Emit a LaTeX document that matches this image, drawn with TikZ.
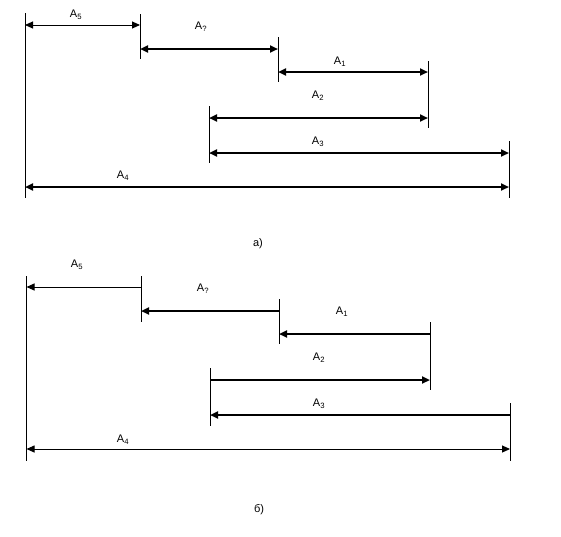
\documentclass[tikz,border=0pt]{standalone}
\usepackage{fontspec}
\setmainfont{Liberation Sans}
\usetikzlibrary{arrows.meta}
\begin{document}
\begin{tikzpicture}[x=1pt,y=-1pt,
  thin dim/.style={line width=0.9pt},
  thick dim/.style={line width=2pt},
  ext/.style={line width=0.9pt},
  lbl/.style={font=\fontsize{11}{13}\selectfont, inner sep=0pt},
  captionlbl/.style={font=\fontsize{11}{13}\selectfont, inner sep=0pt},
  >={Triangle[length=8pt,width=7pt]}]
\useasboundingbox (0,0) rectangle (561,536);

% ===== a) =====
\coordinate (a0t) at (25,13);   \coordinate (a0b) at (25,198);
\coordinate (a1t) at (140,14);  \coordinate (a1b) at (140,59);
\coordinate (a2t) at (278,37);  \coordinate (a2b) at (278,82);
\coordinate (a3t) at (428,61);  \coordinate (a3b) at (428,128);
\coordinate (a4t) at (209,106); \coordinate (a4b) at (209,163);
\coordinate (a5t) at (509,141); \coordinate (a5b) at (509,198);
\foreach \i in {0,...,5} \draw[ext] (a\i t) -- (a\i b);

\coordinate (aA5l) at (25,25);   \coordinate (aA5r) at (140,25);
\coordinate (aAql) at (140,49);  \coordinate (aAqr) at (278,49);
\coordinate (aA1l) at (278,72);  \coordinate (aA1r) at (428,72);
\coordinate (aA2l) at (209,118); \coordinate (aA2r) at (428,118);
\coordinate (aA3l) at (209,153); \coordinate (aA3r) at (509,153);
\coordinate (aA4l) at (25,187);  \coordinate (aA4r) at (509,187);

\draw[thin dim,<->]  (aA5l) -- (aA5r);
\draw[thick dim,<->] (aAql) -- (aAqr);
\draw[thick dim,<->] (aA1l) -- (aA1r);
\draw[thick dim,<->] (aA2l) -- (aA2r);
\draw[thick dim,<->] (aA3l) -- (aA3r);
\draw[thick dim,<->] (aA4l) -- (aA4r);

\node[lbl] (laA5) at (76,15)  {A\textsubscript{5}};
\node[lbl] (laAq) at (201,27) {A\textsubscript{?}};
\node[lbl] (laA1) at (340,62) {A\textsubscript{1}};
\node[lbl] (laA2) at (318,96) {A\textsubscript{2}};
\node[lbl] (laA3) at (318,142){A\textsubscript{3}};
\node[lbl] (laA4) at (123,176){A\textsubscript{4}};
\node[captionlbl] (capa) at (258,244) {а)};

% ===== б) =====
\coordinate (b0t) at (26.5,276); \coordinate (b0b) at (26.5,461);
\coordinate (b1t) at (141,276);  \coordinate (b1b) at (141,322);
\coordinate (b2t) at (279,299);  \coordinate (b2b) at (279,344);
\coordinate (b3t) at (430,322);  \coordinate (b3b) at (430,390);
\coordinate (b4t) at (210,368);  \coordinate (b4b) at (210,426);
\coordinate (b5t) at (510,403);  \coordinate (b5b) at (510,461);
\foreach \i in {0,...,5} \draw[ext] (b\i t) -- (b\i b);

\coordinate (bA5l) at (26.5,287); \coordinate (bA5r) at (141,287);
\coordinate (bAql) at (141,311);  \coordinate (bAqr) at (279,311);
\coordinate (bA1l) at (279,334);  \coordinate (bA1r) at (430,334);
\coordinate (bA2l) at (210,380);  \coordinate (bA2r) at (430,380);
\coordinate (bA3l) at (210,415);  \coordinate (bA3r) at (510,415);
\coordinate (bA4l) at (26.5,449); \coordinate (bA4r) at (510,449);

\draw[thin dim,<-]   (bA5l) -- (bA5r);
\draw[thick dim,<-]  (bAql) -- (bAqr);
\draw[thick dim,<-]  (bA1l) -- (bA1r);
\draw[thick dim,->]  (bA2l) -- (bA2r);
\draw[thick dim,<-]  (bA3l) -- (bA3r);
\draw[thin dim,<->]  (bA4l) -- (bA4r);

\node[lbl] (lbA5) at (77,265)  {A\textsubscript{5}};
\node[lbl] (lbAq) at (203,289) {A\textsubscript{?}};
\node[lbl] (lbA1) at (342,312) {A\textsubscript{1}};
\node[lbl] (lbA2) at (319,358) {A\textsubscript{2}};
\node[lbl] (lbA3) at (319,404) {A\textsubscript{3}};
\node[lbl] (lbA4) at (123,440) {A\textsubscript{4}};
\node[captionlbl] (capb) at (259,510) {б)};
\end{tikzpicture}
\end{document}
